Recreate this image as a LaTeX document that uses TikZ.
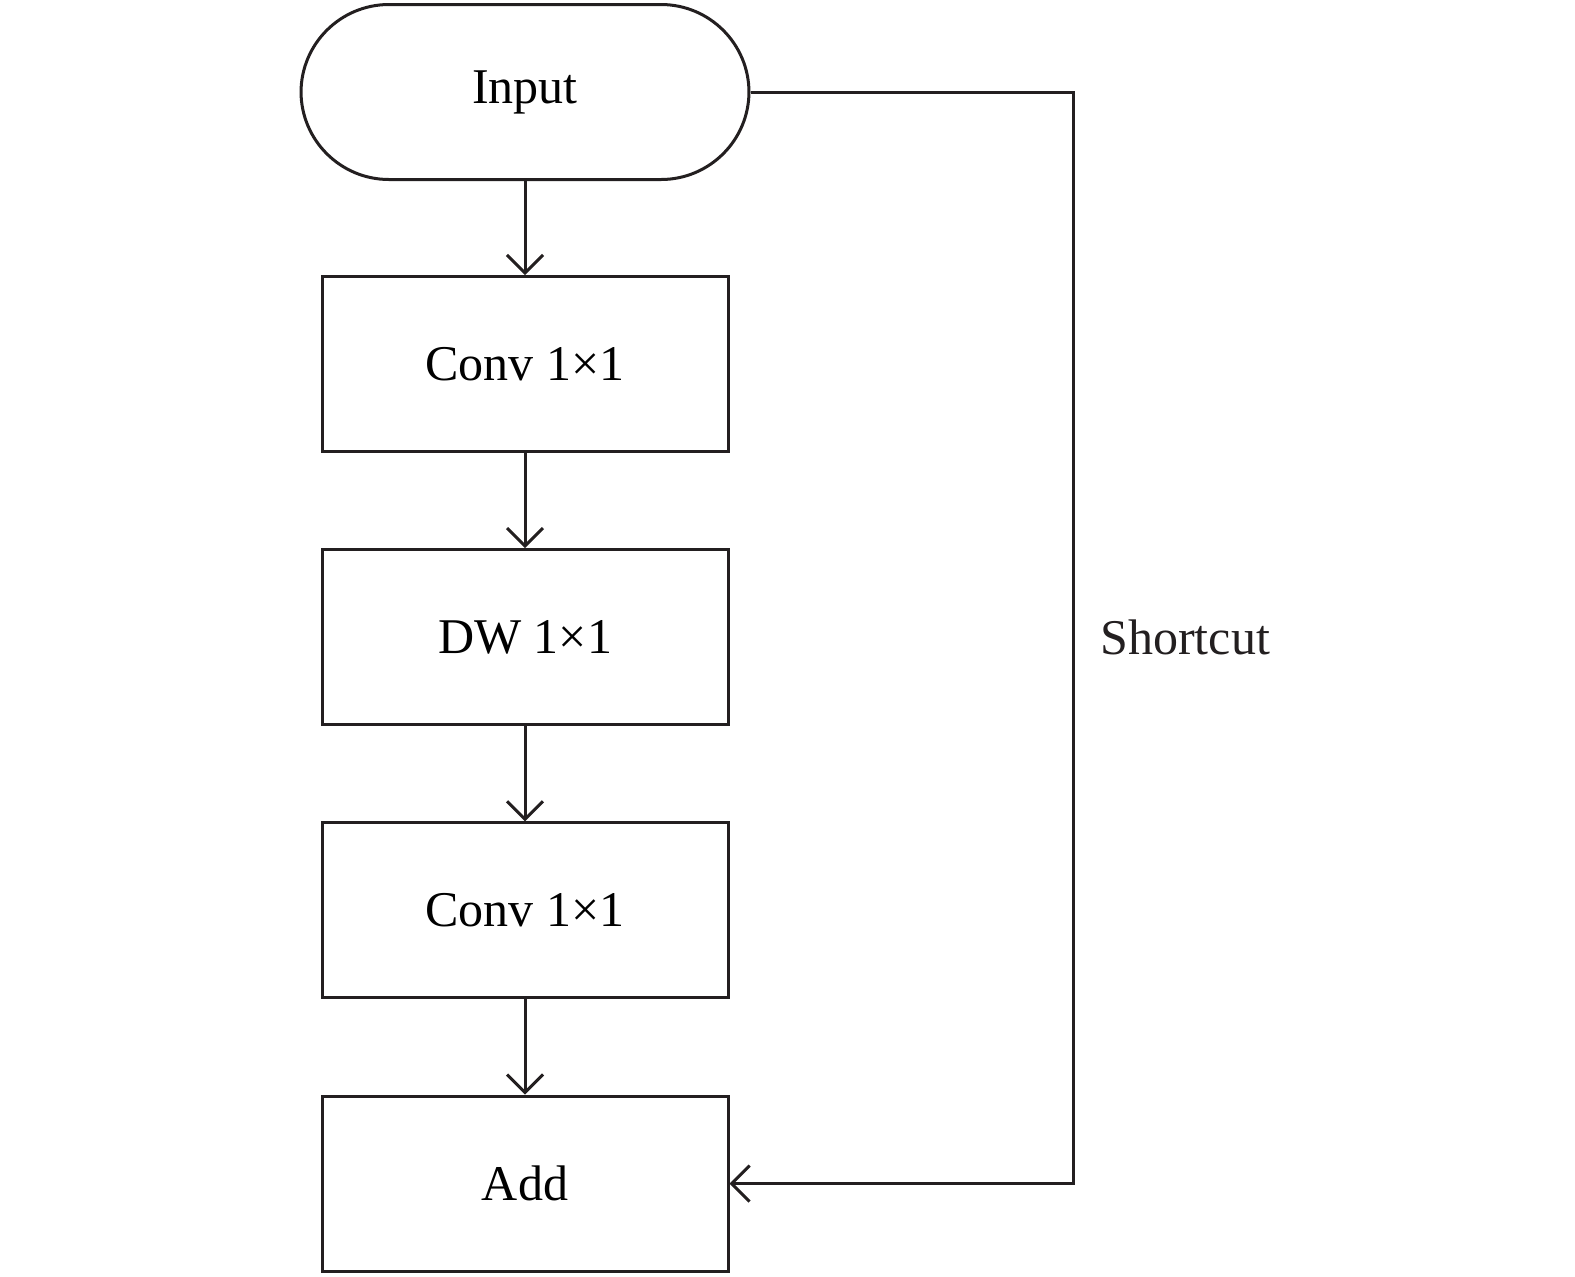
\documentclass[tikz,border=0pt]{standalone}
\usepackage{fontspec}
\setmainfont{Liberation Serif}
\usetikzlibrary{arrows.meta,positioning}
\definecolor{Ink}{HTML}{231F20}

\begin{document}
\begin{tikzpicture}[x=0.5pt,y=-0.5pt,node distance=47.6pt,
  blk/.style={draw=Ink,line width=1.5pt,minimum width=203pt,minimum height=87.5pt,inner sep=0pt,font=\fontsize{25}{30}\selectfont},
  flow/.style={draw=Ink,line width=1.5pt,-{Straight Barb[length=9pt,width=18pt]}}]
\useasboundingbox (0,0) rectangle (1575,1276);
\node[blk,rounded corners=44pt,minimum width=224pt] (input) at (525,92) {Input};
\node[blk,below=47pt of input] (conv1) {Conv 1×1};
\node[blk,below=of conv1] (dw) {DW 1×1};
\node[blk,below=of dw] (conv2) {Conv 1×1};
\node[blk,below=of conv2] (add) {Add};
\foreach \a/\b in {input/conv1,conv1/dw,dw/conv2,conv2/add} {\draw[flow] (\a) -- (\b);}
\coordinate (turn) at (1073,92);
\draw[flow] (input.east) -- (turn) |- node[pos=0.25,right=13pt,inner sep=0pt,text=Ink,font=\fontsize{25}{30}\selectfont] (short) {Shortcut} (add.east);
\end{tikzpicture}
\end{document}
